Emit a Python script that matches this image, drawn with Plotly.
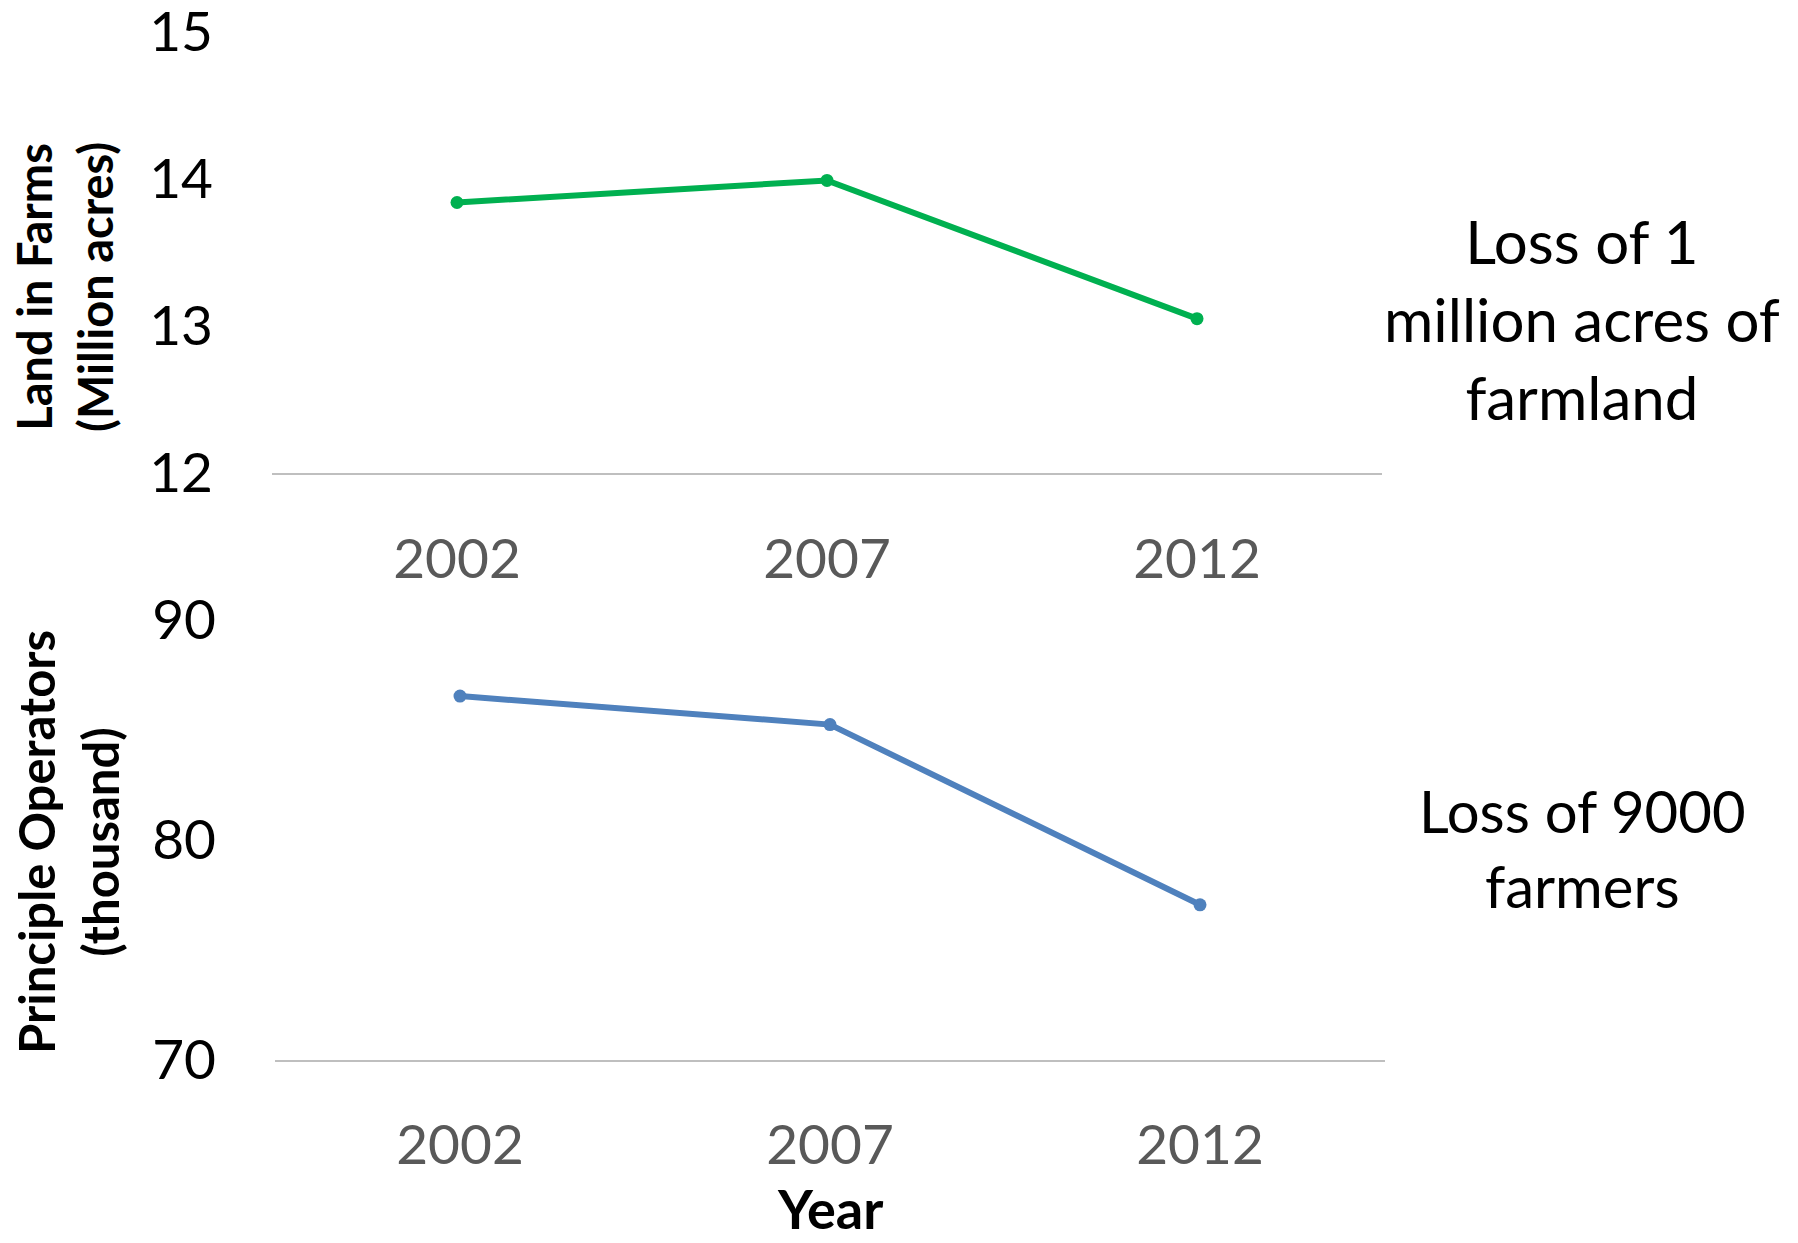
import plotly.graph_objects as go

years = ["2002", "2007", "2012"]
land_million_acres = [13.84, 13.99, 13.05]
operators_thousand = [86.54, 85.24, 77.04]

top_ticks = [12, 13, 14, 15]
bottom_ticks = [70, 80, 90]

W, H = 1798, 1243
FONT = "Lato"
GREEN = "#00b050"
BLUE = "#4f81bd"

fig = go.Figure()
fig.add_trace(go.Scatter(x=years, y=land_million_acres, mode="lines+markers",
                         line=dict(color=GREEN, width=6), marker=dict(size=13, color=GREEN),
                         xaxis="x", yaxis="y", showlegend=False, cliponaxis=False))
fig.add_trace(go.Scatter(x=years, y=operators_thousand, mode="lines+markers",
                         line=dict(color=BLUE, width=6), marker=dict(size=13, color=BLUE),
                         xaxis="x2", yaxis="y2", showlegend=False, cliponaxis=False))

xcommon = dict(type="category", categoryorder="array", categoryarray=years,
               range=[-0.5, 2.5], showgrid=False, zeroline=False, automargin=False,
               showline=True, linecolor="#bfbfbf", linewidth=1.5,
               ticks="outside", ticklen=37, tickcolor="rgba(0,0,0,0)",
               ticklabeloverflow="allow",
               tickfont=dict(family=FONT, size=55, color="#595959"))
ycommon = dict(showgrid=False, zeroline=False, showline=False, automargin=False,
               ticks="outside", ticklen=47, tickcolor="rgba(0,0,0,0)",
               ticklabeloverflow="allow",
               tickfont=dict(family=FONT, size=55, color="#000000"))

fig.update_layout(
    template="none",
    width=W, height=H,
    margin=dict(l=0, r=0, t=0, b=0, pad=0),
    paper_bgcolor="white", plot_bgcolor="white",
    xaxis=dict(xcommon, domain=[272 / W, 1382 / W], anchor="y"),
    yaxis=dict(ycommon, domain=[1 - 473 / H, 1 - 32 / H], range=[12, 15],
               tickvals=top_ticks, anchor="x"),
    xaxis2=dict(xcommon, domain=[275 / W, 1385 / W], anchor="y2"),
    yaxis2=dict(ycommon, domain=[1 - 1059.5 / H, 1 - 620 / H], range=[70, 90],
                tickvals=bottom_ticks, anchor="x2"),
)

annots = [
    dict(text="Loss of 1<br>million acres of<br>farmland", x=1582 / W, y=1 - 319 / H,
         font=dict(family=FONT, size=60, color="black"), yanchor="middle"),
    dict(text="Loss of 9000<br>farmers", x=1582 / W, y=1 - 848 / H,
         font=dict(family=FONT, size=58, color="black"), yanchor="middle"),
    dict(text="<b>Land in Farms</b><br><b>(Million acres)</b>", x=64 / W, y=1 - 287 / H,
         font=dict(family=FONT, size=47, color="black"), textangle=-90, yanchor="middle"),
    dict(text="<b>Principle Operators</b><br><b>(thousand)</b>", x=68 / W, y=1 - 842 / H,
         font=dict(family=FONT, size=49, color="black"), textangle=-90, yanchor="middle"),
    dict(text="<b>Year</b>", x=830 / W, y=0,
         font=dict(family=FONT, size=54, color="black"), yanchor="bottom"),
]
for a in annots:
    fig.add_annotation(xref="paper", yref="paper", showarrow=False,
                       xanchor="center", align="center", **a)

fig.write_html("out.html")
